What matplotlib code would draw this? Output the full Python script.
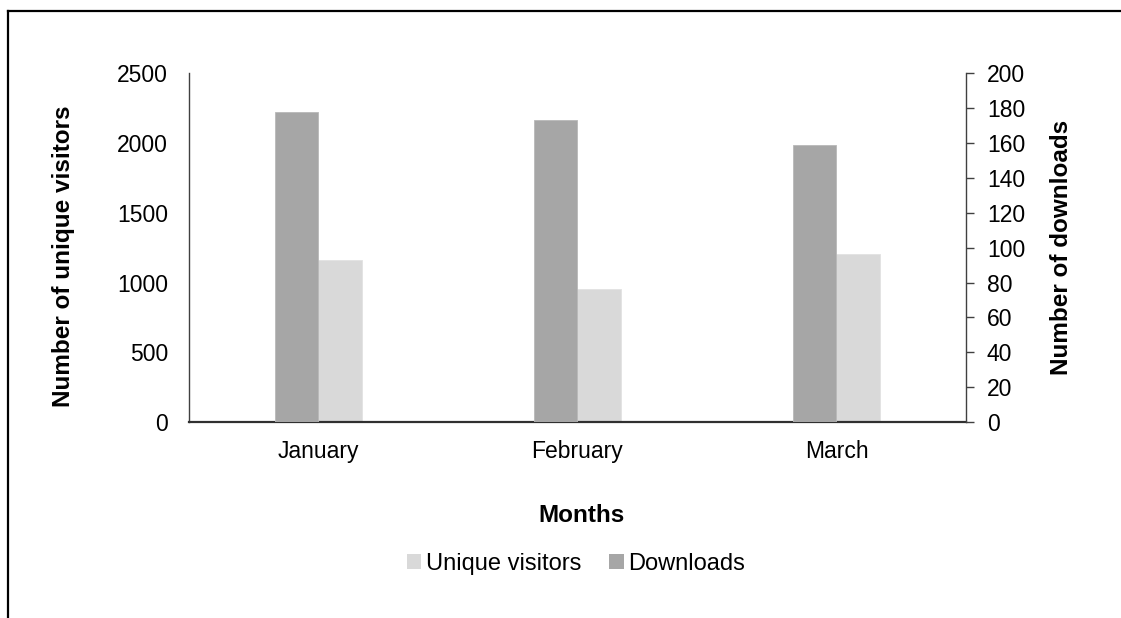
import numpy as np
import matplotlib
matplotlib.use("Agg")
import matplotlib.pyplot as plt
from matplotlib.lines import Line2D
from matplotlib.patches import Patch

plt.rcParams['font.family'] = ['Liberation Sans', 'DejaVu Sans']

months = ["January", "February", "March"]
downloads = [178, 173, 159]
visitors = [1159, 954, 1205]

dl_color = "#a6a6a6"
uv_color = "#d9d9d9"

fig = plt.figure(figsize=(11.21, 6.18), dpi=100)
ax = fig.add_axes([0.1686, 0.3172, 0.6931, 0.5642])
ax2 = ax.twinx()

x = np.arange(len(months))
w = 0.168

ax2.bar(x - w / 2, downloads, w, color=dl_color, edgecolor="#b8b8b8", linewidth=0.6, zorder=2)
ax.bar(x + w / 2, visitors, w, color=uv_color, edgecolor="#e2e2e2", linewidth=0.6, zorder=2)

ax.set_xlim(-0.5, 2.5)
ax.set_ylim(0, 2500)
ax2.set_ylim(0, 200)
ax.set_yticks(np.arange(0, 2501, 500))
ax2.set_yticks(np.arange(0, 201, 20))
ax.set_xticks(x)
ax.set_xticklabels(months)

for s in ["top", "right"]:
    ax.spines[s].set_visible(False)
for s in ["top", "left"]:
    ax2.spines[s].set_visible(False)
ax2.spines["bottom"].set_visible(False)
ax.spines["left"].set_color("#404040")
ax.spines["left"].set_linewidth(1.0)
ax2.spines["right"].set_color("#404040")
ax2.spines["right"].set_linewidth(1.0)
ax.spines["bottom"].set_color("#303030")
ax.spines["bottom"].set_linewidth(1.6)

ax.tick_params(axis="y", length=0, pad=15, labelsize=16.5)
ax.tick_params(axis="x", length=0, pad=13, labelsize=16.5)
ax2.tick_params(axis="y", length=6, width=1.0, color="#404040", pad=9, labelsize=16.5)

ax.set_ylabel("Number of unique visitors", fontsize=17.5, fontweight="bold")
ax.yaxis.set_label_coords(-0.147, 0.475)
ax2.set_ylabel("Number of downloads", fontsize=17.5, fontweight="bold")
ax2.yaxis.set_label_coords(1.108, 0.5)

fig.text(581 / 1121, 1 - 516 / 618, "Months", fontsize=17.5, fontweight="bold",
         ha="center", va="center")

handles = [Patch(facecolor=uv_color, label="Unique visitors"),
           Patch(facecolor=dl_color, label="Downloads")]
fig.legend(handles=handles, loc="center", bbox_to_anchor=(576 / 1121, 1 - 564 / 618),
           ncol=2, frameon=False, fontsize=17, handlelength=0.6, handleheight=0.6,
           handletextpad=0.2, columnspacing=1.2)

# outer chart frame (only top and left visible in the crop)
fig.add_artist(Line2D([8 / 1121, 1.0], [1 - 11 / 618, 1 - 11 / 618],
                      transform=fig.transFigure, color="black", linewidth=1.6))
fig.add_artist(Line2D([8 / 1121, 8 / 1121], [1 - 11 / 618, 0.0],
                      transform=fig.transFigure, color="black", linewidth=1.6))

fig.savefig("out.png", dpi=100)
